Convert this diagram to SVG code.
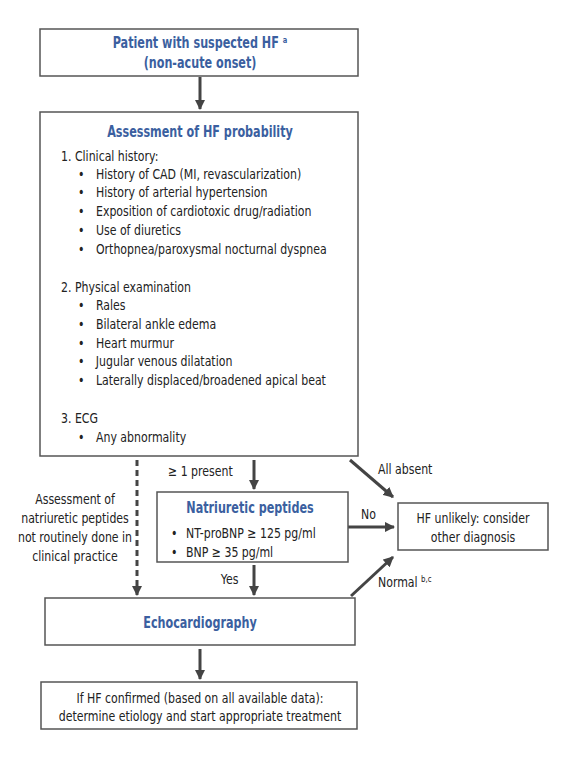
<svg xmlns="http://www.w3.org/2000/svg" width="565" height="759" viewBox="0 0 565 759">
<style>
text{font-family:"DejaVu Sans Condensed","Liberation Sans Narrow",sans-serif;font-size:14px;fill:#222;transform-box:fill-box;transform-origin:left center;transform:scaleX(0.87)}
.t{font-weight:bold;fill:#3b5fa0;font-size:15px;transform:scaleX(0.83)}
.c{text-anchor:middle;transform-origin:center}
.box{fill:#fff;stroke:#555;stroke-width:1.5}
.ar{stroke:#444;stroke-width:3;fill:none}
</style>
<defs>
<marker id="ah" viewBox="0 0 10 10" refX="9" refY="5" markerWidth="3.5" markerHeight="3.5" orient="auto" markerUnits="strokeWidth">
<path d="M0,0L10,5L0,10z" fill="#444"/>
</marker>
</defs>
<rect width="565" height="759" fill="#fff"/>
<g id="connectors">
<line class="ar" x1="200" y1="77" x2="200" y2="109" marker-end="url(#ah)"/>
<line class="ar" x1="254" y1="460" x2="254" y2="489" marker-end="url(#ah)"/>
<line class="ar" x1="137" y1="460" x2="137" y2="595" stroke-dasharray="6,4" marker-end="url(#ah)"/>
<line class="ar" x1="348" y1="527" x2="394" y2="527" marker-end="url(#ah)"/>
<line class="ar" x1="350" y1="460" x2="393" y2="497" marker-end="url(#ah)"/>
<line class="ar" x1="254" y1="565" x2="254" y2="595" marker-end="url(#ah)"/>
<line class="ar" x1="351" y1="596" x2="393" y2="557" marker-end="url(#ah)"/>
<line class="ar" x1="200" y1="649" x2="200" y2="679" marker-end="url(#ah)"/>
<text x="168" y="476">≥ 1 present</text>
<text x="378" y="474">All absent</text>
<text x="361" y="519">No</text>
<text x="221" y="584">Yes</text>
<text x="378" y="587">Normal <tspan font-size="9" dy="-5">b,c</tspan></text>
<text class="c" x="75" y="504">Assessment of</text>
<text class="c" x="75" y="523">natriuretic peptides</text>
<text class="c" x="75" y="542">not routinely done in</text>
<text class="c" x="75" y="561">clinical practice</text>
</g>
<g id="patient">
<rect class="box" x="40" y="29" width="318" height="47"/>
<text class="t c" x="200" y="48">Patient with suspected HF <tspan font-size="9" dy="-5">a</tspan></text>
<text class="t c" x="200" y="68">(non-acute onset)</text>
</g>
<g id="assessment">
<rect class="box" x="40" y="112" width="318" height="344"/>
<text class="t c" x="200" y="137">Assessment of HF probability</text>
<text x="61" y="161">1. Clinical history:</text>
<g>
<text x="78" y="179">•</text><text x="96" y="179">History of CAD (MI, revascularization)</text>
<text x="78" y="197">•</text><text x="96" y="197">History of arterial hypertension</text>
<text x="78" y="216">•</text><text x="96" y="216">Exposition of cardiotoxic drug/radiation</text>
<text x="78" y="235">•</text><text x="96" y="235">Use of diuretics</text>
<text x="78" y="254">•</text><text x="96" y="254">Orthopnea/paroxysmal nocturnal dyspnea</text>
</g>
<text x="61" y="292">2. Physical examination</text>
<g>
<text x="78" y="310">•</text><text x="96" y="310">Rales</text>
<text x="78" y="329">•</text><text x="96" y="329">Bilateral ankle edema</text>
<text x="78" y="348">•</text><text x="96" y="348">Heart murmur</text>
<text x="78" y="366">•</text><text x="96" y="366">Jugular venous dilatation</text>
<text x="78" y="385">•</text><text x="96" y="385">Laterally displaced/broadened apical beat</text>
</g>
<text x="61" y="423">3. ECG</text>
<text x="78" y="442">•</text><text x="96" y="442">Any abnormality</text>
</g>
<g id="natriuretic">
<rect class="box" x="157" y="492" width="191" height="70"/>
<text class="t c" x="250" y="513">Natriuretic peptides</text>
<text x="171" y="538">•</text><text x="186" y="538">NT-proBNP ≥ 125 pg/ml</text>
<text x="171" y="557">•</text><text x="186" y="557">BNP ≥ 35 pg/ml</text>
</g>
<g id="unlikely">
<rect class="box" x="398" y="503" width="150" height="47"/>
<text class="c" x="473" y="523">HF unlikely: consider</text>
<text class="c" x="473" y="542">other diagnosis</text>
</g>
<g id="echo">
<rect class="box" x="45" y="598" width="310" height="47"/>
<text class="t c" x="200" y="628">Echocardiography</text>
</g>
<g id="confirmed">
<rect class="box" x="41" y="682" width="316" height="47"/>
<text class="c" x="200" y="703">If HF confirmed (based on all available data):</text>
<text class="c" x="200" y="721">determine etiology and start appropriate treatment</text>
</g>
</svg>
